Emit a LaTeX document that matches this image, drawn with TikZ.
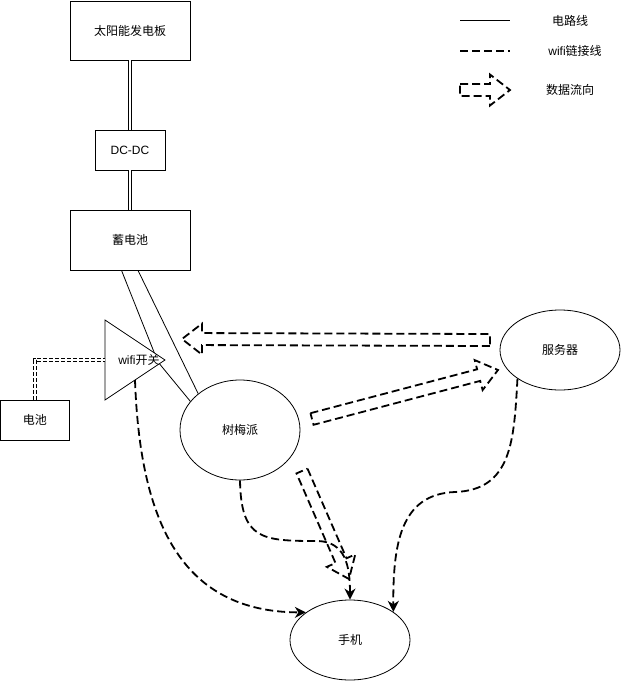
\documentclass[tikz,border=0pt]{standalone}
\usepackage{fontspec}
\setmainfont{Liberation Sans}
\newfontfamily\cjk{Noto Sans CJK SC}
\usetikzlibrary{shapes.geometric,arrows.meta,calc}
\newcommand\flowarr[2]{%
  \coordinate (hb) at ($(#2)!20pt!(#1)$);
  \draw[flowline] ($(#1)!6pt!90:(#2)$) -- ($(hb)!6pt!90:(#2)$) -- ($(hb)!15.5pt!90:(#2)$) -- (#2) -- ($(hb)!15.5pt!-90:(#2)$) -- ($(hb)!6pt!-90:(#2)$) -- ($(#1)!6pt!-90:(#2)$) -- cycle;}
\begin{document}
\begin{tikzpicture}[x=1pt,y=-1pt,
  every node/.style={font=\fontsize{12}{14}\selectfont},
  box/.style={draw, line width=0.8pt, minimum width=120pt, minimum height=60pt, inner sep=0pt},
  oval/.style={draw, ellipse, line width=0.8pt, minimum width=120pt, minimum height=80pt, inner sep=0pt},
  wire/.style={line width=0.8pt},
  link/.style={line width=0.8pt, double, double distance=2.6pt},
  dlink/.style={link, dash pattern=on 4pt off 2pt},
  wifi/.style={line width=1.8pt, dash pattern=on 8pt off 4pt, -{Stealth[length=11pt,width=11pt,inset=3.5pt]}},
  flowline/.style={line width=1.8pt, dash pattern=on 8pt off 4pt, line join=miter}
]
\useasboundingbox (0,0) rectangle (621,681);

% boxes
\node[box, minimum height=59pt] (solar) at (130,30.5) {\cjk 太阳能发电板};
\node[box, minimum width=70pt, minimum height=40pt] (dcdc) at (130,150) {DC-DC};
\node[box] (stor) at (130,240) {\cjk 蓄电池};
\node[box, minimum width=69pt, minimum height=40pt] (cell) at (35,420) {\cjk 电池};

% ellipses
\node[oval, minimum height=100pt] (pi) at (240,430) {\cjk 树梅派};
\node[oval] (server) at (560,350) {\cjk 服务器};
\node[oval] (phone) at (350,640) {\cjk 手机};

% electric links
\draw[link] (solar.south) -- (dcdc.north);
\draw[link] (dcdc.south) -- (stor.north);
\coordinate (s1) at ($(stor.south)+(-8.5,0)$);
\coordinate (s2) at ($(stor.south)+(8,0)$);
\coordinate (tin) at (158,362);
\draw[wire] (s1) -- (tin) -- (pi.150);
\draw[wire] (s2) -- (pi.139);

% wifi switch triangle
\coordinate (tA) at (105,320);
\coordinate (tB) at (105,400);
\coordinate (tC) at (165,360);
\coordinate (tL) at (105,360);
\coordinate (tw) at (135,380);
\draw[wire, fill=white] (tA) -- (tC) -- (tB) -- cycle;
\node (sw) at (139,360) {wifi{\cjk 开关}};

% battery link
\draw[dlink] (cell.north) |- (tL);

% wifi links
\draw[wifi] (tw) .. controls (140,520) and (180,612) .. (phone.148);
\draw[wifi] (pi.south) .. controls (241,540) and (262,541) .. (318,541) .. controls (345,542) and (350,565) .. (phone.north);
\draw[wifi] (server.214) .. controls (514,440) and (512,490) .. (455,492) .. controls (400,494) and (393,545) .. (phone.33);

% data flow arrows
\coordinate (f1a) at (490,340);
\coordinate (f1b) at (182,339);
\coordinate (f2a) at (312,419);
\coordinate (f2b) at (498,370);
\coordinate (f3a) at (302,471);
\coordinate (f3b) at (349,579);
\flowarr{f1a}{f1b}
\flowarr{f2a}{f2b}
\flowarr{f3a}{f3b}

% legend
\coordinate (l1a) at (460,20);
\coordinate (l1b) at (510,20);
\draw[wire] (l1a) -- (l1b);
\node (lt1) at (570,21) {\cjk 电路线};
\coordinate (l2a) at (460,51);
\coordinate (l2b) at (510,51);
\draw[line width=1.8pt, dash pattern=on 8pt off 4pt] (l2a) -- (l2b);
\node (lt2) at (575,51) {wifi{\cjk 链接线}};
\coordinate (l3a) at (460,90);
\coordinate (l3b) at (510,90);
\flowarr{l3a}{l3b}
\node (lt3) at (570,90) {\cjk 数据流向};
\end{tikzpicture}
\end{document}
